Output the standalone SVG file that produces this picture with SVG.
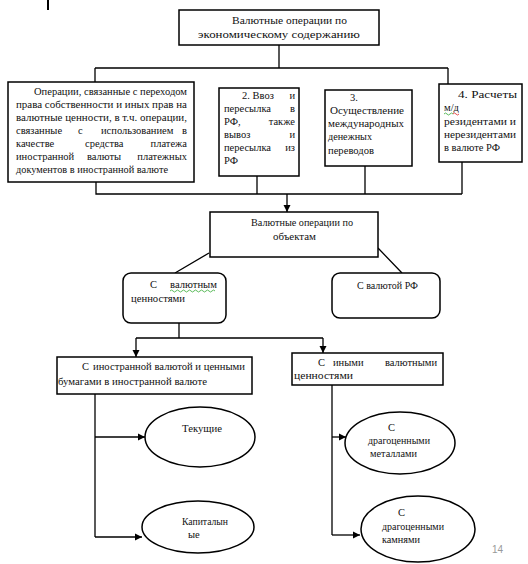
<svg xmlns="http://www.w3.org/2000/svg" width="528" height="564" viewBox="0 0 528 564">
<style>
.box{fill:#fff;stroke:#000;stroke-width:1.5}
.ln{fill:none;stroke:#000;stroke-width:1.3}
.t{font-family:'Liberation Serif','DejaVu Serif','Times New Roman',serif;font-size:10.5px;fill:#111}
.e{text-anchor:end}
.sq{fill:none;stroke-width:0.8}
</style>
<defs>
<marker id="ar" markerUnits="userSpaceOnUse" markerWidth="8" markerHeight="8" refX="7" refY="4" orient="auto">
<path d="M0,0.5 L7,4 L0,7.5 Z" fill="#000"/>
</marker>
</defs>
<rect width="528" height="564" fill="#fff"/>
<line x1="48" y1="0" x2="48" y2="10" stroke="#000" stroke-width="2"/>

<g id="connectors">
<path class="ln" d="M279 45 V68 M95 68 H448 M95 68 V82 M448 68 V84"/>
<path class="ln" d="M96 182 V194 H462 M257 176 V194 M365 166 V194 M462 162 V194"/>
<path class="ln" d="M287 194 V212" marker-end="url(#ar)"/>
<path class="ln" d="M209 253 L175 273 M378 248 L402 273"/>
<path class="ln" d="M179 323 V338 M136 338 H323"/>
<path class="ln" d="M136 338 V357" marker-end="url(#ar)"/>
<path class="ln" d="M323 338 V353" marker-end="url(#ar)"/>
<path class="ln" d="M95 394 V537"/>
<path class="ln" d="M95 437 H145" marker-end="url(#ar)"/>
<path class="ln" d="M95 537 H142" marker-end="url(#ar)"/>
<path class="ln" d="M332 385 V535"/>
<path class="ln" d="M332 437 H346" marker-end="url(#ar)"/>
<path class="ln" d="M332 535 H360" marker-end="url(#ar)"/>
</g>

<g id="top">
<rect class="box" x="179" y="10" width="200" height="35"/>
<text class="t" x="232" y="24" textLength="115" lengthAdjust="spacingAndGlyphs">Валютные операции по</text>
<text class="t" x="198" y="38" textLength="162" lengthAdjust="spacingAndGlyphs">экономическому содержанию</text>
</g>

<g id="op1">
<rect class="box" x="8" y="82" width="186" height="100"/>
<text class="t" x="34" y="95" textLength="153" lengthAdjust="spacingAndGlyphs">Операции, связанные с переходом</text>
<text class="t" x="16" y="108" textLength="171" lengthAdjust="spacingAndGlyphs">права собственности и иных прав на</text>
<text class="t" x="16" y="121" textLength="171" lengthAdjust="spacingAndGlyphs">валютные ценности, в т.ч. операции,</text>
<text class="t" x="16" y="134">связанные</text><text class="t" x="78" y="134">с</text><text class="t" x="101" y="134">использованием</text><text class="t e" x="187" y="134">в</text>
<text class="t" x="16" y="147">качестве</text><text class="t" x="85" y="147">средства</text><text class="t e" x="187" y="147">платежа</text>
<text class="t" x="16" y="160">иностранной</text><text class="t" x="87" y="160">валюты</text><text class="t e" x="187" y="160">платежных</text>
<text class="t" x="16" y="173" textLength="152" lengthAdjust="spacingAndGlyphs">документов в иностранной валюте</text>
</g>

<g id="op2">
<rect class="box" x="219" y="88" width="80" height="88"/>
<text class="t" x="242" y="99">2. Ввоз</text><text class="t e" x="295" y="99">и</text>
<text class="t" x="224" y="112">пересылка</text><text class="t e" x="295" y="112">в</text>
<text class="t" x="224" y="125">РФ,</text><text class="t e" x="295" y="125">также</text>
<text class="t" x="224" y="138">вывоз</text><text class="t e" x="295" y="138">и</text>
<text class="t" x="224" y="151">пересылка</text><text class="t e" x="295" y="151">из</text>
<text class="t" x="224" y="164">РФ</text>
</g>

<g id="op3">
<rect class="box" x="325" y="90" width="87" height="76"/>
<text class="t" x="350" y="101">3.</text>
<text class="t" x="330" y="114" textLength="74" lengthAdjust="spacingAndGlyphs">Осуществление</text>
<text class="t" x="328" y="127" textLength="76" lengthAdjust="spacingAndGlyphs">международных</text>
<text class="t" x="328" y="140" textLength="44" lengthAdjust="spacingAndGlyphs">денежных</text>
<text class="t" x="328" y="154" textLength="46" lengthAdjust="spacingAndGlyphs">переводов</text>
</g>

<g id="op4">
<rect class="box" x="439" y="84" width="83" height="78"/>
<text class="t" x="458" y="98" textLength="59" lengthAdjust="spacingAndGlyphs">4. Расчеты</text>
<text class="t" x="444" y="111">м/д</text>
<path class="sq" stroke="#3a3" d="M444 114 q1.5 -2 3 0 t3 0 t3 0"/>
<path class="sq" stroke="#d22" d="M453 114 q1.5 -2 3 0 t3 0"/>
<text class="t" x="444" y="125" textLength="72" lengthAdjust="spacingAndGlyphs">резидентами и</text>
<text class="t" x="444" y="138" textLength="72" lengthAdjust="spacingAndGlyphs">нерезидентами</text>
<text class="t" x="444" y="151" textLength="56" lengthAdjust="spacingAndGlyphs">в валюте РФ</text>
</g>

<g id="objects">
<rect class="box" x="210" y="212" width="168" height="45"/>
<text class="t" x="251" y="226" textLength="102" lengthAdjust="spacingAndGlyphs">Валютные операции по</text>
<text class="t" x="273" y="240" textLength="43" lengthAdjust="spacingAndGlyphs">объектам</text>
</g>

<g id="valuables">
<rect class="box" x="123" y="273" width="103" height="50" rx="8"/>
<text class="t" x="150" y="288">С</text>
<text class="t" x="170" y="288" textLength="47" lengthAdjust="spacingAndGlyphs">валютным</text>
<path class="sq" stroke="#3a3" d="M170 291 q1.5 -2 3 0 t3 0 t3 0 t3 0 t3 0 t3 0 t3 0 t3 0 t3 0 t3 0 t3 0 t3 0 t3 0 t3 0 t3 0"/>
<text class="t" x="131" y="302" textLength="54" lengthAdjust="spacingAndGlyphs">ценностями</text>
</g>

<g id="rub">
<rect class="box" x="332" y="273" width="108" height="45" rx="8"/>
<text class="t" x="357" y="289" textLength="61" lengthAdjust="spacingAndGlyphs">С валютой РФ</text>
</g>

<g id="foreign">
<rect class="box" x="57" y="357" width="195" height="37"/>
<text class="t" x="82" y="370">С</text>
<text class="t" x="93" y="370" textLength="152" lengthAdjust="spacingAndGlyphs">иностранной валютой и ценными</text>
<text class="t" x="58" y="385" textLength="149" lengthAdjust="spacingAndGlyphs">бумагами в иностранной валюте</text>
</g>

<g id="other">
<rect class="box" x="292" y="353" width="151" height="32"/>
<text class="t" x="318" y="366">С</text><text class="t" x="333" y="366">иными</text><text class="t e" x="437" y="366">валютными</text>
<text class="t" x="294" y="379" textLength="59" lengthAdjust="spacingAndGlyphs">ценностями</text>
</g>

<g id="current">
<ellipse class="box" cx="200" cy="437" rx="55" ry="30"/>
<text class="t" x="182" y="432" textLength="40" lengthAdjust="spacingAndGlyphs">Текущие</text>
</g>

<g id="capital">
<ellipse class="box" cx="198" cy="527" rx="56" ry="26"/>
<text class="t" x="182" y="525" textLength="46" lengthAdjust="spacingAndGlyphs">Капиталын</text>
<text class="t" x="188" y="538">ые</text>
</g>

<g id="metals">
<ellipse class="box" cx="400" cy="443" rx="55" ry="31"/>
<text class="t" x="388" y="431">С</text>
<text class="t" x="368" y="444" textLength="62" lengthAdjust="spacingAndGlyphs">драгоценными</text>
<text class="t" x="370" y="457" textLength="47" lengthAdjust="spacingAndGlyphs">металлами</text>
</g>

<g id="stones">
<ellipse class="box" cx="418" cy="529" rx="57" ry="33"/>
<text class="t" x="398" y="516">С</text>
<text class="t" x="382" y="530" textLength="62" lengthAdjust="spacingAndGlyphs">драгоценными</text>
<text class="t" x="382" y="543" textLength="38" lengthAdjust="spacingAndGlyphs">камнями</text>
</g>

<text x="492" y="553" font-family="'Liberation Sans', Arial, sans-serif" font-size="10" fill="#999">14</text>
</svg>
